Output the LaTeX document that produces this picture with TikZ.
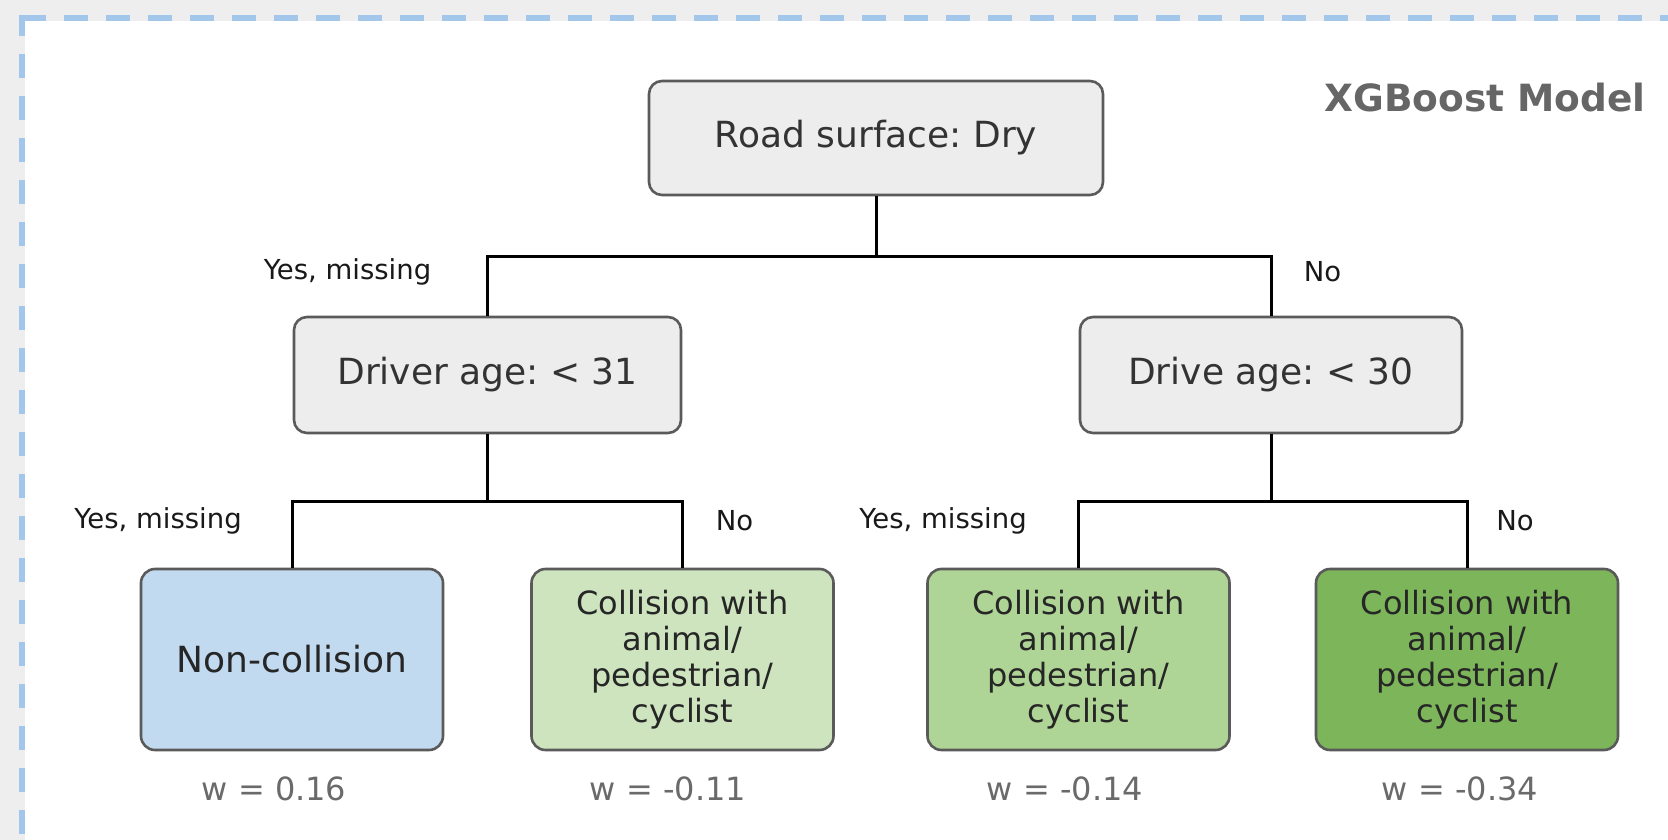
\documentclass[tikz,border=0pt]{standalone}
\usepackage{fontspec}
\setmainfont{DejaVu Sans}
\frenchspacing
\definecolor{bggray}{HTML}{EEEEEE}
\definecolor{dashblue}{HTML}{A3C7EA}
\definecolor{boxgray}{HTML}{EDEDED}
\definecolor{edgegray}{HTML}{5A5A5A}
\definecolor{txtdark}{HTML}{333333}
\definecolor{leafblue}{HTML}{C2DAF0}
\definecolor{leafgA}{HTML}{CDE4BE}
\definecolor{leafgB}{HTML}{AFD596}
\definecolor{leafgC}{HTML}{7CB55A}
\definecolor{wgray}{HTML}{6A6A6A}
\definecolor{titlegray}{HTML}{666666}
\tikzset{
  splitbox/.style={draw=edgegray, line width=2.6pt, rounded corners=13pt, fill=boxgray,
    text=txtdark, inner sep=0pt, font=\fontsize{36}{43}\selectfont},
  leafbox/.style={draw=edgegray, line width=2.6pt, rounded corners=14pt,
    minimum width=302pt, minimum height=181pt, inner sep=0pt, align=center,
    text=black!85, font=\fontsize{32}{36}\selectfont},
  branch/.style={draw=black, line width=3pt},
  edgelabel/.style={text=black!90, font=\fontsize{27.5}{32}\selectfont, inner sep=0pt},
  weight/.style={text=wgray, font=\fontsize{32}{36}\selectfont, inner sep=0pt},
}
\begin{document}
\begin{tikzpicture}[x=1pt,y=-1pt]
\useasboundingbox (0,0) rectangle (1668,840);
\fill[bggray] (0,0) rectangle (1668,840);
\fill[white] (25,21) rectangle (1668,840);
% dashed border
\fill[dashblue] (19,15) rectangle (46,21);
\fill[dashblue] (19,15) rectangle (25,36);
\draw[dashblue, line width=6pt, dash pattern=on 24pt off 18pt] (64,18) -- (1668,18);
\draw[dashblue, line width=6pt, dash pattern=on 24pt off 18pt] (22,54) -- (22,840);

% title
\node[anchor=east, text=titlegray, font=\bfseries\fontsize{37.5}{44}\selectfont, inner sep=0pt] (title) at (1646,98) {XGBoost Model};

% split nodes
\node[splitbox, minimum width=454pt, minimum height=114pt] (root) at (876,138) {Road surface: Dry};
\node[splitbox, minimum width=387pt, minimum height=116pt] (d1) at (487.5,375) {Driver age: < 31};
\node[splitbox, minimum width=382pt, minimum height=116pt] (d2) at (1271,375) {Drive age: < 30};

% leaves
\node[leafbox, fill=leafblue, font=\fontsize{36}{43}\selectfont] (l1) at (292,659.5) {Non-collision};
\node[leafbox, fill=leafgA] (l2) at (682.5,659.5) {Collision with\\animal/\\pedestrian/\\cyclist};
\node[leafbox, fill=leafgB] (l3) at (1078.5,659.5) {Collision with\\animal/\\pedestrian/\\cyclist};
\node[leafbox, fill=leafgC] (l4) at (1467,659.5) {Collision with\\animal/\\pedestrian/\\cyclist};

% connectors
\draw[branch] (root.south) -- ++(0,60) coordinate (j0) -| (d1.north);
\draw[branch] (j0) -| (d2.north);
\draw[branch] (d1.south) -- ++(0,67) coordinate (j1) -| (l1.north);
\draw[branch] (j1) -| (l2.north);
\draw[branch] (d2.south) -- ++(0,67) coordinate (j2) -| (l3.north);
\draw[branch] (j2) -| (l4.north);

% edge labels
\node[edgelabel] (e1) at (347.5,272) {Yes, missing};
\node[edgelabel] (e2) at (1322.5,272) {No};
\node[edgelabel] (e3) at (158,521) {Yes, missing};
\node[edgelabel] (e4) at (734.5,521) {No};
\node[edgelabel] (e5) at (943,521) {Yes, missing};
\node[edgelabel] (e6) at (1515,521) {No};

% weights
\node[weight] (w1) at (274,789) {w = 0.16};
\node[weight] (w2) at (668,789) {w = -0.11};
\node[weight] (w3) at (1065,789) {w = -0.14};
\node[weight] (w4) at (1460,789) {w = -0.34};
\end{tikzpicture}
\end{document}
